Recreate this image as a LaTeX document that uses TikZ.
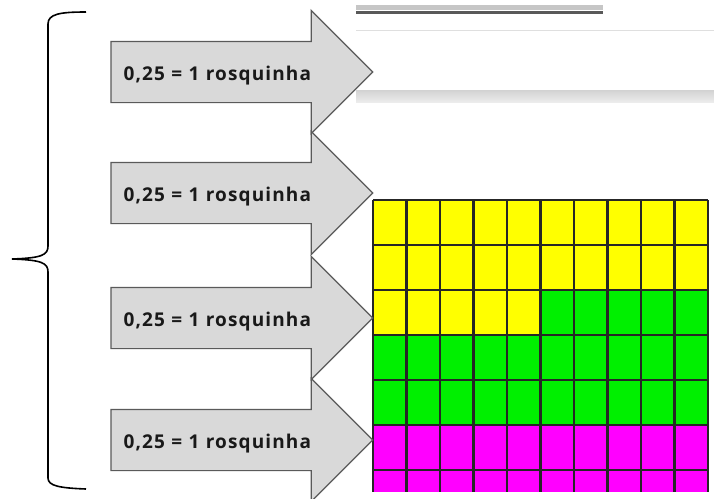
\documentclass[tikz,border=0pt]{standalone}
\usepackage{fontspec}
\setmainfont{Open Sans}
\usetikzlibrary{positioning, shapes.arrows}
\definecolor{arrowfill}{HTML}{D9D9D9}
\definecolor{arrowline}{HTML}{5A5A5A}
\definecolor{cellyellow}{HTML}{FFFF00}
\definecolor{cellgreen}{HTML}{00F000}
\definecolor{cellpink}{HTML}{FF00FF}

\begin{document}
\begin{tikzpicture}[x=1pt, y=-1pt,
    arrow style/.style={single arrow, draw=arrowline, fill=arrowfill, line width=1.2pt,
      single arrow head extend=31pt, single arrow tip angle=90,
      inner xsep=12pt, inner ysep=0pt, outer sep=0pt,
      text width=206pt, text height=38pt, text depth=22pt, align=left,
      font=\fontsize{19}{21}\selectfont\bfseries\addfontfeature{LetterSpace=6},
      text=black!90, anchor=tail},
    brace line/.style={line width=1.6pt, black},
    cell line/.style={line width=2.2pt, black!85}
  ]
  \clip (0,0) rectangle (714,498);
  \fill[white] (0,0) rectangle (714,498);

  % Screenshot strip
  \fill[gray!45] (356,5) rectangle (603,10);
  \draw[line width=2.5pt, black!65] (356,12.5) -- (603,12.5);
  \draw[line width=1pt, gray!25] (356,30) -- (714,30);
  \shade[top color=gray!35, bottom color=gray!15] (356,90) rectangle (714,102);

  % Grid
  \fill[cellyellow] (373,200) rectangle (708,290);
  \fill[cellyellow] (373,290) rectangle (540.5,335);
  \fill[cellgreen]  (540.5,290) rectangle (708,335);
  \fill[cellgreen]  (373,335) rectangle (708,425);
  \fill[cellpink]   (373,425) rectangle (708,492);
  \foreach \c in {0,...,10}
    \draw[cell line] ({373+33.5*\c},200) -- ({373+33.5*\c},492);
  \foreach \r in {0,...,6}
    \draw[cell line] (373,{200+45*\r}) -- (708,{200+45*\r});

  % Brace
  \draw[brace line] (86,12) .. controls (60,12) and (48,14) .. (48,24) -- (48,246)
    .. controls (48,255) and (42,258) .. (12,259)
    .. controls (42,260) and (48,263) .. (48,272) -- (48,478)
    .. controls (48,486) and (60,488) .. (86,489);

  % Arrows
  \node[arrow style] (first)  at (111,72)  {0,25 = 1 rosquinha};
  \node[arrow style] (second) at (111,193) {0,25 = 1 rosquinha};
  \node[arrow style] (third)  at (111,318) {0,25 = 1 rosquinha};
  \node[arrow style] (fourth) at (111,440) {0,25 = 1 rosquinha};

\end{tikzpicture}
\end{document}
